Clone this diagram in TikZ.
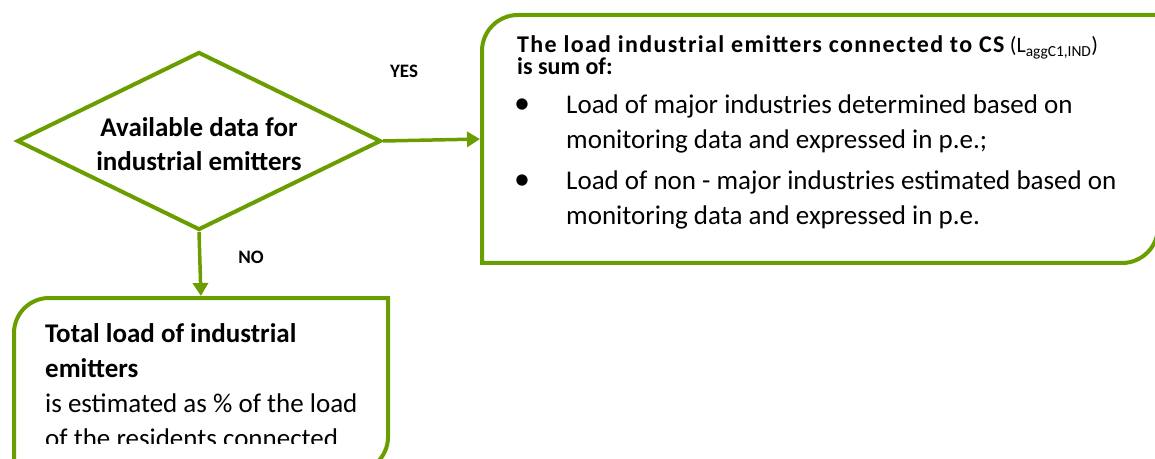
\documentclass[tikz,border=0pt]{standalone}
\usepackage{fontspec}
\setmainfont{Carlito}
\usepackage{xcolor}
\usetikzlibrary{shapes.geometric}
\usetikzlibrary{arrows.meta}

\definecolor{leaf}{RGB}{106,158,0}
\newcommand{\tightlines}{\lineskiplimit=-50pt\relax}

\begin{document}
\begin{tikzpicture}[x=1pt, y=1pt,
  outline/.style={draw=leaf, line width=4pt},
  link/.style={draw=leaf, line width=3.5pt, shorten >=2pt, -{Triangle[length=13pt,width=15pt]}},
  frame/.style={inner sep=0pt, outer sep=0pt},
  body/.style={inner sep=0pt, align=left, anchor=base west, font=\fontsize{27}{35}\selectfont},
  answer/.style={font=\bfseries\fontsize{19}{20}\selectfont},
  dot/.style={inner sep=0pt, anchor=base, font=\fontsize{32}{32}\selectfont}]

\useasboundingbox (0,0) rectangle (1155,458);

% question
\node[diamond, outline, minimum width=364pt, minimum height=178pt, aspect=2.04,
      inner sep=0pt, align=center, font=\bfseries\fontsize{27}{34}\selectfont]
      (1) at (199,317) {\rule{0pt}{26pt}Available data for\\industrial emitters};

% the two boxes, only two corners rounded
\node[frame, minimum width=676pt, minimum height=248pt] (2) at (820,319) {};
\node[frame, minimum width=374pt, minimum height=174pt] (3) at (201,73) {};

\draw[outline] (2.north east) -- ([xshift=36pt]2.north west)
  arc[start angle=90, end angle=180, radius=36pt] -- (2.south west)
  -- ([xshift=-36pt]2.south east) arc[start angle=270, end angle=360, radius=36pt] -- cycle;
\draw[outline] (3.north east) -- ([xshift=35pt]3.north west)
  arc[start angle=90, end angle=180, radius=35pt] -- (3.south west)
  -- ([xshift=-35pt]3.south east) arc[start angle=270, end angle=360, radius=35pt] -- cycle;

\path[link] (1.east) -- (2.west);
\path[link] (1.south) -- (3.north);

\node[answer] (yes) at (404,387) {YES};
\node[answer] (no) at (251,201) {NO};

% YES branch, the two title lines sit close together
\node[body, font=\fontsize{24}{22}\selectfont\tightlines] (2a) at (517,383)
  {{\bfseries\addfontfeatures{LetterSpace=5.6}The load industrial emitters connected to CS}
   {\fontsize{22}{22}\selectfont (L\textsubscript{aggC1,IND})}\\
   \textbf{is sum of:}};
\node[dot] (d1) at (522,344) {•};
\node[dot] (d2) at (522,268) {•};
\node[body] (2b) at (566,309)
  {Load of major industries determined based on\\monitoring data and expressed in p.e.;};
\node[body] (2c) at (566,233)
  {Load of non - major industries estimated based on\\monitoring data and expressed in p.e.};

% NO branch, last line runs under the frame
\begin{scope}
\clip (0,15) rectangle (1155,458);
\node[body] (3a) at (45,11)
  {\textbf{Total load of industrial}\\\textbf{emitters}\\is estimated as \% of the load\\of the residents connected};
\end{scope}

\end{tikzpicture}
\end{document}
